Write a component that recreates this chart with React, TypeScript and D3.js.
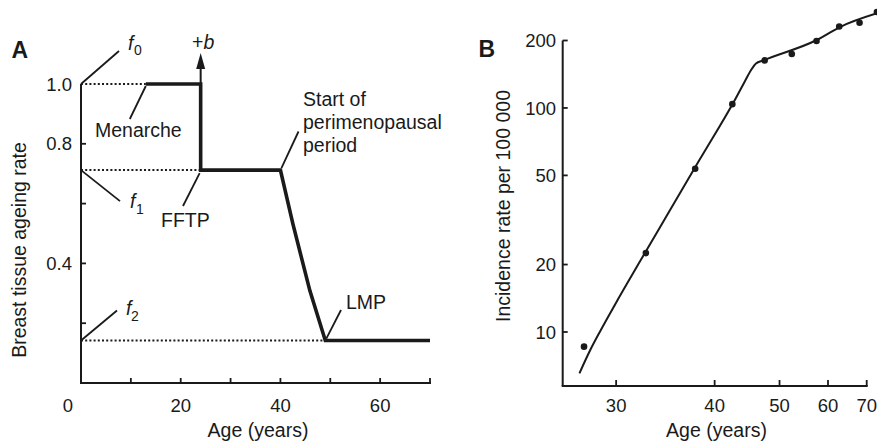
import React from "react";
import * as d3 from "d3";

// ---------- Panel A data ----------
const ageA = [13, 24, 24, 40, 42.5, 45.9, 49, 70];
const rateA = [1.0, 1.0, 0.712, 0.712, 0.532, 0.309, 0.142, 0.142];
const fLevels = [1.0, 0.712, 0.142]; // f0, f1, f2
const fEndAges = [13, 24, 49];
const yTicksA = [0.2, 0.4, 0.6, 0.8];
const yLabelsA = [0.4, 0.8, 1.0];
const xTicksA = [10, 20, 30, 40, 50, 60, 70];
const xLabelsA = [0, 20, 40, 60];

// ---------- Panel B data ----------
const lineAgeB = [27.4, 28.1, 28.8, 29.92, 31.98, 34.84, 38.17, 42.78, 44.27, 45.2, 45.98, 47.13, 57.44, 62.89, 73.02];
const lineValB = [6.54, 8.27, 10.06, 13.28, 20.68, 35.0, 59.1, 108.9, 131.9, 147.7, 157.9, 162.8, 201, 229.7, 264.5];
const dotAgeB = [27.7, 32.5, 37.6, 42.4, 47.4, 52.3, 57.4, 62.7, 68, 73];
const dotValB = [8.6, 22.5, 53.5, 104, 163, 174, 199, 231, 240, 268];
const xTicksB = [30, 40, 50, 60, 70];
const yTicksB = [10, 20, 50, 100, 200];
const AGE_SHIFT = 15;

const FONT = "'Liberation Sans', Arial, Helvetica, sans-serif";
const INK = "#1a1a1a";

export default function App() {
  // Panel A scales
  const xA = d3.scaleLinear().domain([0, 70]).range([81, 430]);
  const yA = d3.scaleLinear().domain([0, 1]).range([383, 84]);
  const lineA = d3
    .line<number>()
    .x((_, i) => xA(ageA[i]))
    .y((d) => yA(d));

  // Panel B scales
  const xLogB = d3.scaleLog().domain([26.37 - AGE_SHIFT, 70 - AGE_SHIFT]).range([562.7, 866.7]);
  const xB = (age: number) => xLogB(age - AGE_SHIFT);
  const yB = d3.scaleLog().domain([5.74, 200]).range([386, 40.5]);
  const lineB = d3
    .line<number>()
    .x((_, i) => xB(lineAgeB[i]))
    .y((d) => yB(d))
    .curve(d3.curveMonotoneX);

  const axisA0 = xA(0);
  const baseA = yA(0);
  const axisB0 = 562.7;
  const baseB = 386;

  const ann = { stroke: INK, strokeWidth: 1.8, fill: "none" };
  const txt = { fontFamily: FONT, fill: INK, fontSize: 19.5 } as const;

  const fPts = fLevels.map((f) => [axisA0, yA(f)]);
  const mx = xA(13);
  const fx = xA(24);
  const sx = xA(40);
  const lx = xA(49);

  return (
    <svg
      width={877}
      height={448}
      style={{ position: "absolute", left: 0, top: 0, background: "#fff" }}
    >
      {/* ================= Panel A ================= */}
      <text x={11.5} y={57.5} fontFamily={FONT} fontWeight="bold" fontSize={23} fill={INK}>
        A
      </text>
      {/* dotted reference lines */}
      {fLevels.map((f, i) => (
        <line
          key={"dot" + i}
          x1={axisA0}
          x2={xA(fEndAges[i])}
          y1={yA(f)}
          y2={yA(f)}
          stroke={INK}
          strokeWidth={2}
          strokeDasharray="2,2.2"
        />
      ))}
      {/* axes */}
      <line x1={axisA0} x2={axisA0} y1={yA(1)} y2={baseA} stroke={INK} strokeWidth={2} />
      <line x1={axisA0 - 1} x2={xA(70) + 1} y1={baseA} y2={baseA} stroke={INK} strokeWidth={2} />
      {yTicksA.map((t) => (
        <line key={"yta" + t} x1={axisA0} x2={axisA0 + 5} y1={yA(t)} y2={yA(t)} stroke={INK} strokeWidth={1.8} />
      ))}
      {yLabelsA.map((t) => (
        <text key={"yla" + t} x={72} y={yA(t)} dy="0.36em" textAnchor="end" {...txt} fontSize={18.5}>
          {t.toFixed(1)}
        </text>
      ))}
      {xTicksA.map((t) => (
        <line key={"xta" + t} x1={xA(t)} x2={xA(t)} y1={baseA} y2={baseA - 5} stroke={INK} strokeWidth={1.8} />
      ))}
      {xLabelsA.map((t) => (
        <text key={"xla" + t} x={xA(t) - (t === 0 ? 13 : 0)} y={411.5} textAnchor="middle" {...txt} fontSize={18.5}>
          {t}
        </text>
      ))}
      <text x={258} y={437} textAnchor="middle" {...txt}>
        Age (years)
      </text>
      <text transform={`translate(25.5,250) rotate(-90)`} textAnchor="middle" {...txt}>
        Breast tissue ageing rate
      </text>

      {/* main thick line */}
      <path d={lineA(rateA) || ""} fill="none" stroke={INK} strokeWidth={3.6} strokeLinejoin="miter" />

      {/* +b arrow */}
      <line x1={fx} x2={fx} y1={yA(1)} y2={68} stroke={INK} strokeWidth={2} />
      <path d={`M${fx - 4.5},69 L${fx},53 L${fx + 4.5},69 Z`} fill={INK} />
      <text x={192} y={49} {...txt}>
        +<tspan fontStyle="italic">b</tspan>
      </text>

      {/* f labels */}
      <line x1={fPts[0][0]} y1={fPts[0][1]} x2={fPts[0][0] + 38} y2={fPts[0][1] - 33} {...ann} />
      <text x={128} y={50} {...txt} fontStyle="italic">f</text>
      <text x={134} y={55} {...txt} fontSize={14}>0</text>

      <line x1={fPts[1][0]} y1={fPts[1][1]} x2={fPts[1][0] + 39} y2={fPts[1][1] + 31} {...ann} />
      <text x={130} y={208} {...txt} fontStyle="italic">f</text>
      <text x={136} y={214} {...txt} fontSize={14}>1</text>

      <line x1={fPts[2][0]} y1={fPts[2][1]} x2={fPts[2][0] + 36} y2={fPts[2][1] - 30} {...ann} />
      <text x={126} y={315} {...txt} fontStyle="italic">f</text>
      <text x={131} y={321} {...txt} fontSize={14}>2</text>

      {/* event annotations */}
      <line x1={mx} y1={yA(1) + 2} x2={mx - 16} y2={119} {...ann} />
      <text x={95} y={136.5} {...txt}>Menarche</text>

      <line x1={fx - 1} y1={yA(0.712) + 3} x2={183} y2={206} {...ann} />
      <text x={161} y={226.5} {...txt}>FFTP</text>

      <line x1={sx + 1} y1={yA(0.712) - 2} x2={298.5} y2={131.5} {...ann} />
      <text x={303} y={106} {...txt}>Start of</text>
      <text x={303} y={129} {...txt}>perimenopausal</text>
      <text x={303} y={152} {...txt}>period</text>

      <line x1={lx + 1} y1={yA(0.142) - 2} x2={341} y2={310} {...ann} />
      <text x={346} y={309} {...txt}>LMP</text>

      {/* ================= Panel B ================= */}
      <text x={478.5} y={56.5} fontFamily={FONT} fontWeight="bold" fontSize={23} fill={INK}>
        B
      </text>
      <line x1={axisB0} x2={axisB0} y1={yB(200)} y2={baseB} stroke={INK} strokeWidth={2} />
      <line x1={axisB0 - 1} x2={867.7} y1={baseB} y2={baseB} stroke={INK} strokeWidth={2} />
      {yTicksB.map((t) => (
        <line key={"ytb" + t} x1={axisB0} x2={axisB0 + 5} y1={yB(t)} y2={yB(t)} stroke={INK} strokeWidth={1.8} />
      ))}
      {yTicksB.map((t) => (
        <text key={"ylb" + t} x={556} y={yB(t)} dy="0.36em" textAnchor="end" {...txt} fontSize={18.5}>
          {t}
        </text>
      ))}
      {xTicksB.map((t) => (
        <line key={"xtb" + t} x1={xB(t)} x2={xB(t)} y1={baseB} y2={baseB - 6} stroke={INK} strokeWidth={1.8} />
      ))}
      {xTicksB.map((t) => (
        <text key={"xlb" + t} x={xB(t)} y={411.5} textAnchor="middle" {...txt} fontSize={18.5}>
          {t}
        </text>
      ))}
      <text x={716.5} y={437} textAnchor="middle" {...txt}>
        Age (years)
      </text>
      <text transform={`translate(509.5,206) rotate(-90)`} textAnchor="middle" {...txt}>
        Incidence rate per 100 000
      </text>

      <path d={lineB(lineValB) || ""} fill="none" stroke={INK} strokeWidth={2} strokeLinejoin="round" />
      {dotValB.map((v, i) => (
        <circle key={"pt" + i} cx={xB(dotAgeB[i])} cy={yB(v)} r={3.3} fill={INK} />
      ))}
    </svg>
  );
}
